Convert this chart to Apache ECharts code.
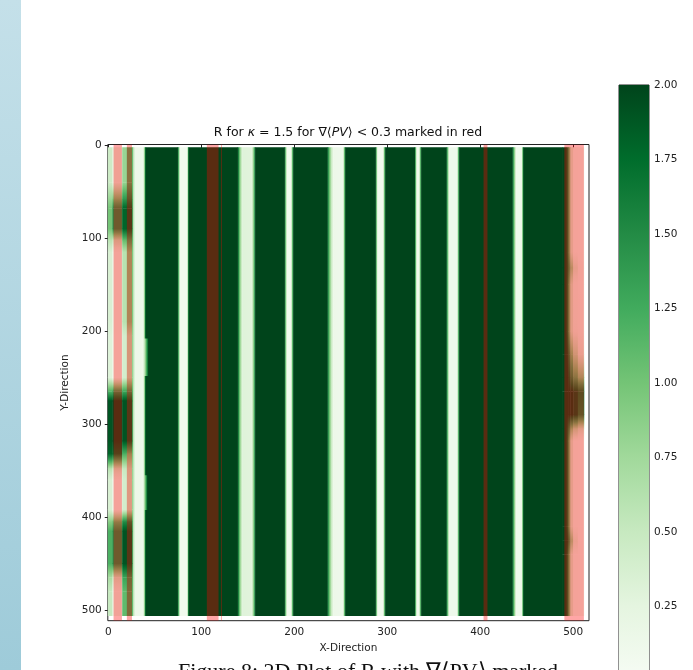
<!DOCTYPE html>
<html>
<head>
<meta charset="utf-8">
<script src="https://cdn.jsdelivr.net/npm/echarts@6/dist/echarts.min.js"></script>
<style>
html,body{margin:0;padding:0;background:#fff;}
#chart{width:693px;height:670px;}
</style>
</head>
<body>
<div id="chart"></div>
<script>
// ---------------- data ----------------
const titleText = 'R for {i|κ} = 1.5 for ∇⟨{i|PV}⟩ < 0.3 marked in red';
const captionText = 'Figure 8: 2D Plot of R with ∇⟨PV⟩ marked';
const xName = 'X-Direction';
const yName = 'Y-Direction';
const xTicks = [0, 100, 200, 300, 400, 500];
const yTicks = [0, 100, 200, 300, 400, 500];
const xRange = [-0.5, 517];
const yRange = [-0.5, 511.5];
const imageRows = [2.5, 506];          // rows of the R image that hold values
const cbRange = [0, 2];
const cbInterval = 0.25;
const greens = ['#f7fcf5','#e5f5e0','#c7e9c0','#a1d99b','#74c476','#41ab5d','#238b45','#006d2c','#00441b'];

// R sampled across x (uniform along y) : [x, R]
const profileKnots = [
  [25.5,1.1],[27,0.6],[28.7,0.15],[37.3,0.12],[38.5,0.6],[39.5,1.4],[40.3,2],
  [74.5,2],[75.5,1.2],[76.8,0.3],[77.5,0.08],[84.3,0.08],[85,0.4],[85.8,1.3],[86.6,2],
  [139,2],[140.5,1.2],[142.5,0.6],[144,0.3],[154,0.28],[155.5,0.6],[157,1.3],[158,2],
  [189.5,2],[190.5,1.1],[191.8,0.3],[192.5,0.1],[196,0.1],[197.2,0.5],[198.2,1.3],[199,2],
  [235.5,2],[237,1.2],[239.5,0.55],[242,0.15],[252,0.12],[253.2,0.5],[254.2,1.3],[255,2],
  [287.3,2],[288.3,1.1],[289.3,0.3],[290,0.08],[295,0.08],[296.2,0.5],[297.2,1.3],[298,2],
  [329.5,2],[330.5,1.0],[331.5,0.3],[332.2,0.12],[333.6,0.12],[334.8,0.5],[335.8,1.3],[336.6,2],
  [363.5,2],[364.8,1.1],[366,0.4],[367,0.12],[374.6,0.12],[375.7,0.5],[376.6,1.3],[377.4,2],
  [434.5,2],[436,1.1],[437.8,0.45],[438.8,0.12],[444.2,0.12],[445,0.5],[445.8,1.3],[446.6,2],
  [488,2]
];

// left edge: column edges, R sampled down y per column
const leftCols = [-0.5, 4.5, 15, 20, 25.5];
const leftY = [2.5, 40, 58, 68, 90, 102, 115, 190, 205, 250, 265, 275, 318, 332, 348, 360, 392, 405, 415, 450, 465, 480, 506];
const leftVals = [
  [0.45, 0.2, 0.8, 1.2],
  [0.45, 0.2, 0.8, 1.2],
  [0.8, 1.0, 1.4, 1.6],
  [1.0, 1.5, 1.8, 1.9],
  [1.0, 1.5, 1.8, 1.9],
  [0.6, 0.5, 1.1, 1.3],
  [0.35, 0.12, 0.6, 0.9],
  [0.35, 0.12, 0.6, 0.9],
  [0.3, 0.1, 0.4, 0.55],
  [0.3, 0.1, 0.4, 0.55],
  [1.2, 1.4, 1.3, 1.4],
  [1.9, 2.0, 1.9, 1.9],
  [1.9, 2.0, 1.9, 1.9],
  [1.8, 1.8, 1.2, 1.0],
  [0.6, 0.4, 0.5, 0.5],
  [0.35, 0.1, 0.4, 0.45],
  [0.35, 0.1, 0.4, 0.45],
  [0.9, 1.1, 1.5, 1.6],
  [1.2, 1.5, 1.9, 1.9],
  [1.2, 1.5, 1.9, 1.9],
  [0.7, 0.4, 1.3, 1.4],
  [0.5, 0.15, 1.1, 1.3],
  [0.5, 0.15, 1.1, 1.3]
];

// right edge
const rightCols = [488, 491, 493, 495, 497, 500, 505, 511.5];
const rightY = [2.5, 115, 132, 150, 200, 225, 250, 265, 290, 305, 318, 410, 425, 440, 506];
const rightVals = [
  [2, 2, 1.7, 1.0, 0.35, 0.12, 0.1],
  [2, 2, 1.7, 1.0, 0.35, 0.12, 0.1],
  [2, 2, 1.8, 1.3, 0.8, 0.35, 0.15],
  [2, 2, 1.7, 1.0, 0.4, 0.15, 0.12],
  [2, 2, 1.7, 1.0, 0.4, 0.2, 0.15],
  [2, 2, 1.9, 1.5, 1.0, 0.6, 0.3],
  [2, 2, 2, 1.8, 1.5, 1.2, 0.9],
  [2, 2, 2, 2, 2, 1.9, 1.7],
  [2, 2, 2, 2, 2, 1.9, 1.6],
  [2, 2, 1.8, 1.4, 0.9, 0.6, 0.4],
  [2, 2, 1.7, 1.0, 0.35, 0.12, 0.1],
  [2, 2, 1.7, 1.0, 0.35, 0.12, 0.1],
  [2, 2, 1.9, 1.4, 0.8, 0.3, 0.1],
  [2, 2, 1.7, 1.0, 0.35, 0.12, 0.1],
  [2, 2, 1.7, 1.0, 0.35, 0.12, 0.1]
];

// local widening of the first stripe : [x0, x1, y0, y1, R at x0, R at x1]
const bulges = [
  [38.5, 43, 208, 248, 0.35, 2],
  [38.5, 42, 355, 392, 0.5, 2]
];

// columns where the gradient of <PV> is below 0.3 (red mask) : [x0, x1]
const redBands = [[5.7, 14.7], [20, 25.5], [106, 118.6], [121.2, 122.2], [403.6, 407.8], [490.5, 511.5]];

// ---------------- build items : [x0, x1, y0, y1, v0, v1, dir(0=along x,1=along y)] ----------------
const heatItems = [];
for (let i = 0; i < profileKnots.length - 1; i++) {
  const a = profileKnots[i], b = profileKnots[i + 1];
  heatItems.push([a[0], b[0], imageRows[0], imageRows[1], a[1], b[1], 0]);
}
function addColumns(cols, ys, vals) {
  for (let c = 0; c < cols.length - 1; c++) {
    for (let r = 0; r < ys.length - 1; r++) {
      heatItems.push([cols[c], cols[c + 1], ys[r], ys[r + 1], vals[r][c], vals[r + 1][c], 1]);
    }
  }
}
addColumns(leftCols, leftY, leftVals);
addColumns(rightCols, rightY, rightVals);
bulges.forEach(b => heatItems.push([b[0], b[1], b[2], b[3], b[4], b[5], 0]));

const redItems = redBands.map(r => [r[0], r[1], yRange[0], yRange[1]]);

function cmap(v) {
  const t = Math.max(0, Math.min(1, (v - cbRange[0]) / (cbRange[1] - cbRange[0])));
  return echarts.color.lerp(t, greens);
}
function gradStops(v0, v1) {
  const n = 6, stops = [];
  for (let k = 0; k <= n; k++) stops.push({ offset: k / n, color: cmap(v0 + (v1 - v0) * k / n) });
  return stops;
}
function rectRender(params, api) {
  const p0 = api.coord([api.value(0), api.value(2)]);
  const p1 = api.coord([api.value(1), api.value(3)]);
  const v0 = api.value(4), v1 = api.value(5), dir = api.value(6);
  const x = Math.min(p0[0], p1[0]), y = Math.min(p0[1], p1[1]);
  const fill = (v0 === v1) ? cmap(v0)
    : (dir === 0 ? new echarts.graphic.LinearGradient(0, 0, 1, 0, gradStops(v0, v1))
                 : new echarts.graphic.LinearGradient(0, 0, 0, 1, gradStops(v0, v1)));
  return {
    type: 'rect',
    shape: { x: x, y: y, width: Math.abs(p1[0] - p0[0]) + 0.4, height: Math.abs(p1[1] - p0[1]) + 0.4 },
    style: { fill: fill }
  };
}
function redRender(params, api) {
  const p0 = api.coord([api.value(0), api.value(2)]);
  const p1 = api.coord([api.value(1), api.value(3)]);
  return {
    type: 'rect',
    shape: { x: Math.min(p0[0], p1[0]), y: Math.min(p0[1], p1[1]), width: Math.abs(p1[0] - p0[0]), height: Math.abs(p1[1] - p0[1]) },
    style: { fill: 'rgba(255,0,0,0.35)' }
  };
}
function cbRender(params, api) {
  const top = api.coord([0, api.value(1)]);
  const bot = api.coord([0, api.value(0)]);
  const cs = params.coordSys;
  const stops = greens.slice().reverse().map((c, i) => ({ offset: i / (greens.length - 1), color: c }));
  return {
    type: 'rect',
    shape: { x: cs.x, y: top[1], width: cs.width, height: bot[1] - top[1] },
    style: { fill: new echarts.graphic.LinearGradient(0, 0, 0, 1, stops) }
  };
}

const font = 'DejaVu Sans';
const chart = echarts.init(document.getElementById('chart'), null, { renderer: 'canvas' });
chart.setOption({
  animation: false,
  backgroundColor: '#fff',
  textStyle: { fontFamily: font },
  grid: [
    { left: 107.8, top: 144.5, width: 481.2, height: 476.2, show: true, borderColor: '#222', borderWidth: 1, backgroundColor: 'transparent', containLabel: false, outerBoundsMode: 'none' },
    { left: 619, top: 85, width: 30, height: 596, show: true, borderColor: '#222', borderWidth: 1, backgroundColor: 'transparent', containLabel: false, outerBoundsMode: 'none' }
  ],
  xAxis: [
    {
      gridIndex: 0, type: 'value', min: xRange[0], max: xRange[1],
      name: xName, nameLocation: 'middle', nameGap: 20,
      nameTextStyle: { fontFamily: font, fontSize: 10.5, color: '#222' },
      axisLine: { show: false },
      axisTick: { show: true, customValues: xTicks, length: 3.5, lineStyle: { color: '#222', width: 1 } },
      axisLabel: { customValues: xTicks, fontFamily: font, fontSize: 10.5, color: '#222', margin: 6 },
      splitLine: { show: false }
    },
    { gridIndex: 1, type: 'value', min: 0, max: 1, show: false }
  ],
  yAxis: [
    {
      gridIndex: 0, type: 'value', min: yRange[0], max: yRange[1], inverse: true,
      name: yName, nameLocation: 'middle', nameGap: 28, nameRotate: 90,
      nameTextStyle: { fontFamily: font, fontSize: 10.5, color: '#222' },
      axisLine: { show: false },
      axisTick: { show: true, customValues: yTicks, length: 3.5, lineStyle: { color: '#222', width: 1 } },
      axisLabel: { customValues: yTicks, fontFamily: font, fontSize: 10.5, color: '#222', margin: 6 },
      splitLine: { show: false }
    },
    {
      gridIndex: 1, type: 'value', min: cbRange[0], max: cbRange[1], interval: cbInterval, position: 'right',
      axisLine: { show: false },
      axisTick: { show: true, length: 3.5, lineStyle: { color: '#222', width: 1 } },
      axisLabel: { fontFamily: font, fontSize: 10.5, color: '#222', margin: 5, formatter: v => v.toFixed(2) },
      splitLine: { show: false }
    }
  ],
  series: [
    { type: 'custom', xAxisIndex: 0, yAxisIndex: 0, renderItem: rectRender, data: heatItems, clip: true, silent: true },
    { type: 'custom', xAxisIndex: 0, yAxisIndex: 0, renderItem: redRender, data: redItems, clip: true, silent: true },
    { type: 'custom', xAxisIndex: 1, yAxisIndex: 1, renderItem: cbRender, data: [[cbRange[0], cbRange[1]]], clip: false, silent: true, z: 1 }
  ],
  graphic: [
    {
      type: 'rect', left: 0, top: 0, z: -10,
      shape: { x: 0, y: 0, width: 21, height: 670 },
      style: { fill: new echarts.graphic.LinearGradient(0, 0, 0, 1, [{ offset: 0, color: '#c4e0e9' }, { offset: 1, color: '#9ecbd9' }]) }
    },
    {
      type: 'text', x: 348, y: 133, z: 10,
      style: {
        text: titleText, fontFamily: font, fontSize: 12.5, fill: '#111',
        align: 'center', verticalAlign: 'middle',
        rich: { i: { fontFamily: font, fontSize: 12.5, fontStyle: 'italic', fill: '#111' } }
      }
    },
    {
      type: 'text', x: 178, y: 661, z: 10,
      style: { text: captionText, fontFamily: 'Liberation Serif', fontSize: 22, fill: '#111', align: 'left', verticalAlign: 'top' }
    }
  ]
});
</script>
</body>
</html>
